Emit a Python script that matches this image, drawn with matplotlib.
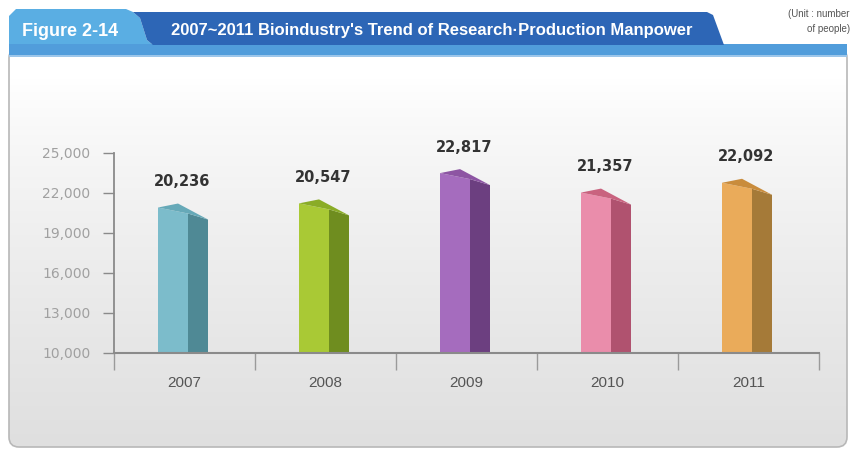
import numpy as np
import matplotlib
matplotlib.use('Agg')
import matplotlib.pyplot as plt
from matplotlib.patches import FancyBboxPatch, Polygon, Rectangle

# Data
years = ['2007', '2008', '2009', '2010', '2011']
values = [20236, 20547, 22817, 21357, 22092]
value_labels = ['20,236', '20,547', '22,817', '21,357', '22,092']
yticks = [10000, 13000, 16000, 19000, 22000, 25000]
ytick_labels = ['10,000', '13,000', '16,000', '19,000', '22,000', '25,000']

# bar colours: front, side, top
front_cols = ['#7cbccb', '#a9c935', '#a56cbe', '#ea8dab', '#eaab5a']
side_cols = ['#4f8995', '#6f8d1f', '#6c3f80', '#b0526f', '#a57a38']
top_cols = ['#66a9b8', '#8aac27', '#8d55a3', '#c9637f', '#c98c3c']

W, H = 856, 451
fig = plt.figure(figsize=(W / 100, H / 100), dpi=100)
fig.patch.set_facecolor('white')

# background layer in pixel coords
bg = fig.add_axes([0, 0, 1, 1])
bg.set_xlim(0, W)
bg.set_ylim(H, 0)
bg.axis('off')

# panel with smooth vertical gradient
panel = FancyBboxPatch((9, 48), 838, 399, boxstyle='round,pad=0,rounding_size=10',
                       fc='none', ec='#b8b8b8', lw=1.2, zorder=3)
bg.add_patch(panel)
yy = np.linspace(0, 1, 400)
t = np.clip((yy - 0.08) / 0.92, 0, 1)
shade = 1.0 - 0.125 * t ** 0.8
grad = np.repeat(shade[:, None, None], 3, axis=2)
im = bg.imshow(grad, extent=[9, 847, 447, 48], aspect='auto', zorder=1)
im.set_clip_path(FancyBboxPatch((9, 48), 838, 399, boxstyle='round,pad=0,rounding_size=10',
                                transform=bg.transData))

# header
bg.add_patch(Polygon([(9, 56), (9, 16), (16, 9), (126, 9), (133, 12), (140, 18),
                      (147, 40), (153, 45), (153, 56)],
                     closed=True, fc='#5aaee3', ec='none', zorder=4))
bg.add_patch(Rectangle((9, 44), 838, 12, fc='#519ddb', ec='none', zorder=4))
bg.add_patch(Polygon([(133, 12), (707, 12), (713, 15), (724, 45), (153, 45),
                      (147, 40), (140, 18)],
                     closed=True, fc='#2d66b6', ec='none', zorder=5))
bg.add_patch(Rectangle((9, 55), 838, 2, fc='#9cc6ea', ec='none', zorder=4))
bg.text(22, 32, 'Figure 2-14', color='white', fontsize=13, fontweight='bold',
        family='Liberation Sans', va='center', ha='left', zorder=6)
bg.text(432, 31, "2007~2011 Bioindustry's Trend of Research\u00b7Production Manpower",
        color='white', fontsize=12, fontweight='bold', family='Liberation Sans',
        va='center', ha='center', zorder=6)
bg.text(850, 14, '(Unit : number', color='#555555', fontsize=7, family='Liberation Sans',
        ha='right', va='center', zorder=6)
bg.text(850, 29, 'of people)', color='#555555', fontsize=7, family='Liberation Sans',
        ha='right', va='center', zorder=6)

# chart axes: x 114..819 px, y 10000 at 353 px, 25000 at 153 px
ax = fig.add_axes([114 / W, (H - 353) / H, 705 / W, 200 / H])
ax.set_facecolor('none')
ax.set_xlim(-0.5, 4.5)
ax.set_ylim(10000, 25000)

px_x = 1 / 141.0     # data units per pixel (x)
px_y = 15000 / 200.0  # data units per pixel (y)

for i, v in enumerate(values):
    fl = i - 26.5 * px_x
    fr = i + 3.5 * px_x
    sr = i + 23.5 * px_x
    # top corners in pixels relative to the value
    y_fl = v + 9 * px_y
    y_fr = v + 3 * px_y
    y_sr = v - 3 * px_y
    y_bk = v + 13 * px_y
    x_bk = i - 6.5 * px_x
    ax.add_patch(Polygon([(fl, 10000), (fr, 10000), (fr, y_fr), (fl, y_fl)],
                         closed=True, fc=front_cols[i], ec='none', zorder=3, clip_on=False))
    ax.add_patch(Polygon([(fr, 10000), (sr, 10000), (sr, y_sr), (fr, y_fr)],
                         closed=True, fc=side_cols[i], ec='none', zorder=3, clip_on=False))
    ax.add_patch(Polygon([(fl, y_fl), (x_bk, y_bk), (sr, y_sr), (fr, y_fr)],
                         closed=True, fc=top_cols[i], ec='none', zorder=3, clip_on=False))
    ax.text(i - 2 * px_x, v + 35 * px_y, value_labels[i], ha='center', va='center',
            fontsize=10.5, fontweight='bold', color='#333333', clip_on=False)
    ax.text(i, 10000 - 30 * px_y, years[i], ha='center', va='center',
            fontsize=11, color='#555555', family='Liberation Sans', clip_on=False)

for s in ['top', 'right']:
    ax.spines[s].set_visible(False)
ax.spines['left'].set_color('#8a8a8a')
ax.spines['bottom'].set_color('#8a8a8a')
ax.spines['left'].set_linewidth(1.3)
ax.spines['bottom'].set_linewidth(1.5)
ax.spines['bottom'].set_zorder(4)

ax.set_yticks(yticks)
ax.set_yticklabels(ytick_labels, color='#a0a0a0', fontsize=10)
ax.tick_params(axis='y', length=8, width=1, color='#8a8a8a', pad=9)
ax.set_xticks([-0.5, 0.5, 1.5, 2.5, 3.5, 4.5])
ax.set_xticklabels([])
ax.tick_params(axis='x', length=12, width=1, color='#9a9a9a', direction='out')

fig.savefig('out.png', dpi=100)
